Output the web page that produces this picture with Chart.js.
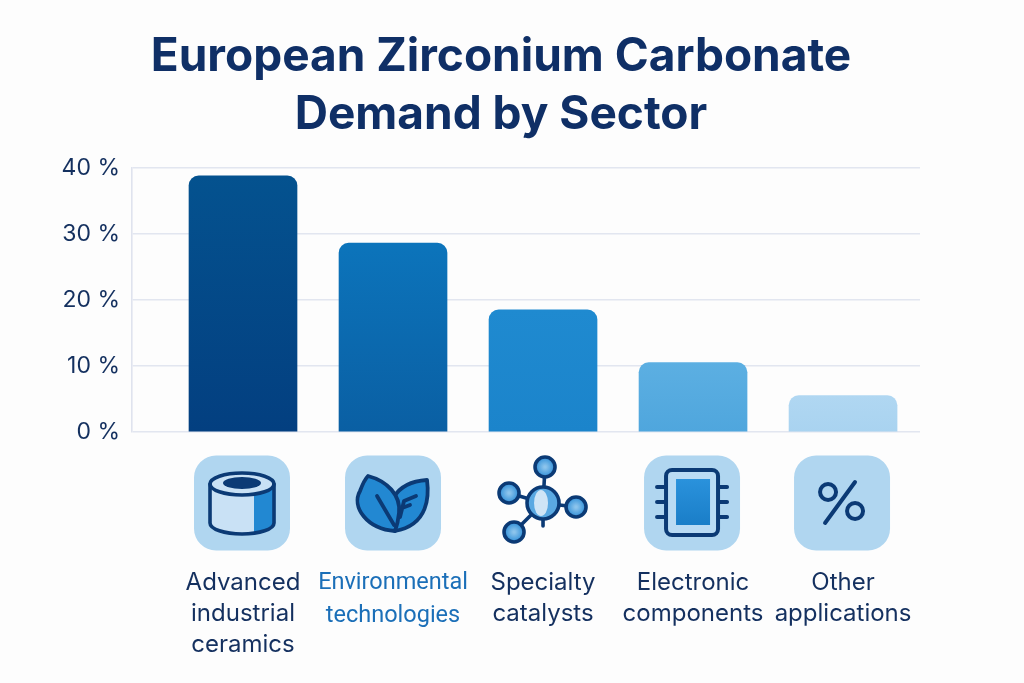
<!DOCTYPE html>
<html><head><meta charset="utf-8">
<style>html,body{margin:0;padding:0;background:#fdfdfd}canvas{display:block}</style>
<script src="https://cdn.jsdelivr.net/npm/chart.js@4"></script></head>
<body><canvas id="c" width="1024" height="683"></canvas>
<script>
const titleLines = ["European Zirconium Carbonate", "Demand by Sector"];
const categoryLabels = [["Advanced","industrial","ceramics"],["Environmental","technologies"],["Specialty","catalysts"],["Electronic","components"],["Other","applications"]];
const categoryPositions = [0,1,2,3,4];
const sharePercent = [38.8,28.6,18.5,10.5,5.5];
const yTicks = [0,10,20,30,40];
const barTopColors = ["#04528f","#0c74bb","#1f8ad0","#5cafe2","#b0d7f2"];
const barBottomColors = ["#033f80","#0a5fa3","#1b84cb","#4fa6dd","#a9d3f0"];
const labelColors = ["#14305f","#1b6fb8","#14305f","#14305f","#14305f"];
const iconNames = ["ceramic","leaf","molecule","chip","percent"];

const DARK="#0b3a75", TILE="#b0d6f0", MID="#2288d2", PALE="#c9e1f5";
function tile(g,cx,cy){g.fillStyle=TILE;g.beginPath();g.roundRect(cx-48,cy-47.5,96,95,22);g.fill();}
function setStroke(g,w){g.strokeStyle=DARK;g.lineWidth=w;g.lineCap="round";g.lineJoin="round";}
const icons={
 ceramic(g,x,y){x-=1;tile(g,x,y);setStroke(g,3.6);
  g.fillStyle=PALE;g.beginPath();g.ellipse(x,y-19,32,11,0,Math.PI,0);g.lineTo(x+32,y+20);g.ellipse(x,y+20,32,11,0,0,Math.PI);g.closePath();g.fill();
  g.fillStyle=MID;g.beginPath();g.moveTo(x+12,y-9);g.lineTo(x+32,y-15);g.lineTo(x+32,y+20);g.quadraticCurveTo(x+26,y+28,x+12,y+30);g.closePath();g.fill();
  g.beginPath();g.ellipse(x,y-19,32,11,0,Math.PI,0);g.lineTo(x+32,y+20);g.ellipse(x,y+20,32,11,0,0,Math.PI);g.closePath();g.stroke();
  g.beginPath();g.ellipse(x,y-19,32,11,0,0,Math.PI);g.stroke();
  g.fillStyle=DARK;g.beginPath();g.ellipse(x,y-20,19,6,0,0,Math.PI*2);g.fill();},
 leaf(g,x,y){tile(g,x,y);setStroke(g,3.8);g.fillStyle=MID;
  g.beginPath();g.moveTo(x+2,y+28);g.bezierCurveTo(x+36,y+22,x+36,y-8,x+34,y-23);g.bezierCurveTo(x+20,y-22,x+8,y-18,x+1,y-6);g.closePath();g.fill();g.stroke();
  g.beginPath();g.moveTo(x+2,y+28);g.bezierCurveTo(x-26,y+26,x-42,y+4,x-33,y-12);g.bezierCurveTo(x-30,y-20,x-28,y-24,x-25,y-27);g.bezierCurveTo(x-6,y-22,x+8,y-8,x+6,y+10);g.quadraticCurveTo(x+5,y+20,x+2,y+28);g.closePath();g.fill();g.stroke();
  g.beginPath();g.moveTo(x-16,y-7);g.lineTo(x+1,y+22);g.moveTo(x+7,y+14);g.lineTo(x+11,y-2);g.lineTo(x+23,y-7);g.moveTo(x+9,y+5);g.lineTo(x+17,y+2);g.stroke();},
 molecule(g,x,y){setStroke(g,3.6);
  const nodes=[[2,-36,10],[-34,-10,10],[33,4,10],[-29,29,10]];
  g.beginPath();nodes.forEach(n=>{g.moveTo(x,y);g.lineTo(x+n[0],y+n[1]);});g.moveTo(x,y);g.lineTo(x,y+23);g.stroke();
  nodes.forEach(n=>{const r=g.createRadialGradient(x+n[0],y+n[1],1,x+n[0],y+n[1],n[2]);r.addColorStop(0,"#8cc4ec");r.addColorStop(1,"#2f8fd8");
   g.fillStyle=r;g.beginPath();g.arc(x+n[0],y+n[1],n[2],0,Math.PI*2);g.fill();g.stroke();});
  g.fillStyle="#5aa9e2";g.beginPath();g.arc(x,y,16,0,Math.PI*2);g.fill();
  g.fillStyle="#cfe5f6";g.beginPath();g.ellipse(x-2,y,7,13,0,0,Math.PI*2);g.fill();
  g.beginPath();g.arc(x,y,16,0,Math.PI*2);g.stroke();},
 chip(g,x,y){x-=1;tile(g,x,y);setStroke(g,4);y-=1;
  g.beginPath();[-15,0,15].forEach(d=>{g.moveTo(x-35,y+d);g.lineTo(x-26,y+d);g.moveTo(x+26,y+d);g.lineTo(x+35,y+d);});g.stroke();
  g.fillStyle="#b9dbf4";g.beginPath();g.roundRect(x-26,y-32,52,65,6);g.fill();g.stroke();
  const lg=g.createLinearGradient(0,y-23,0,y+23);lg.addColorStop(0,"#2a92dc");lg.addColorStop(1,"#1a7ec8");g.fillStyle=lg;g.fillRect(x-16,y-23,34,46);},
 percent(g,x,y){x-=1;tile(g,x,y);setStroke(g,4);
  g.beginPath();g.arc(x-14,y-11,8,0,Math.PI*2);g.moveTo(x+21,y+8);g.arc(x+13,y+8,8,0,Math.PI*2);g.moveTo(x+13,y-21);g.lineTo(x-17,y+20);g.stroke();}
};
const iconPlugin={id:"icons",
 afterLayout(chart){chart.titleBlock.left=0;chart.titleBlock.right=1002;},
 afterDraw(chart){const g=chart.ctx,xs=chart.scales.x;g.save();
  iconNames.forEach((n,i)=>icons[n](g,xs.getPixelForValue(categoryPositions[i]),503));g.restore();}};

new Chart(document.getElementById("c"),{
 type:"bar",
 data:{datasets:[{data:categoryPositions.map((p,i)=>({x:p,y:sharePercent[i]})),
   barThickness:108,borderRadius:{topLeft:10,topRight:10,bottomLeft:0,bottomRight:0},borderSkipped:false,
   backgroundColor(ctx){const c=ctx.chart;if(!c.chartArea||ctx.dataIndex===undefined)return barTopColors[0];
     const i=ctx.dataIndex,s=c.scales.y,lg=c.ctx.createLinearGradient(0,s.getPixelForValue(sharePercent[i]),0,s.getPixelForValue(0));
     lg.addColorStop(0,barTopColors[i]);lg.addColorStop(1,barBottomColors[i]);return lg;}}]},
 plugins:[iconPlugin],
 options:{responsive:false,animation:false,
  layout:{padding:{left:0,right:104,top:0,bottom:0}},
  plugins:{legend:{display:false},tooltip:{enabled:false},
   title:{display:true,text:titleLines,color:"#0f2f66",align:"center",fullSize:true,
     font:{family:"Inter",size:46,weight:"700",lineHeight:1.26},padding:{top:28,bottom:24}}},
  scales:{
   x:{type:"linear",offset:false,min:-0.74,max:4.513,grid:{display:false},border:{display:false},
     afterFit(s){s.height=251;s.paddingLeft=0;s.paddingRight=0;},
     afterBuildTicks(s){s.ticks=categoryPositions.map(v=>({value:v}));},
     ticks:{autoSkip:false,maxRotation:0,padding:127,callback:v=>categoryLabels[v],
       color:c=>labelColors[c.index],font:c=>({family:c.index===1?"Roboto":"Inter",size:c.index===1?23.5:24,weight:"400",lineHeight:c.index===1?1.38:1.3})}},
   y:{min:0,max:40,afterFit(s){s.width=132;s.paddingTop=0;s.paddingBottom=0;},
     afterBuildTicks(s){s.ticks=yTicks.map(v=>({value:v}));},
     grid:{color:"#e2e6f0",lineWidth:1.6,drawTicks:false},border:{color:"#dfe3ee",width:1.6},
     ticks:{padding:12,color:"#14305f",font:{family:"Inter",size:23},callback:v=>v+" %"}}
  }}
});
</script></body></html>
